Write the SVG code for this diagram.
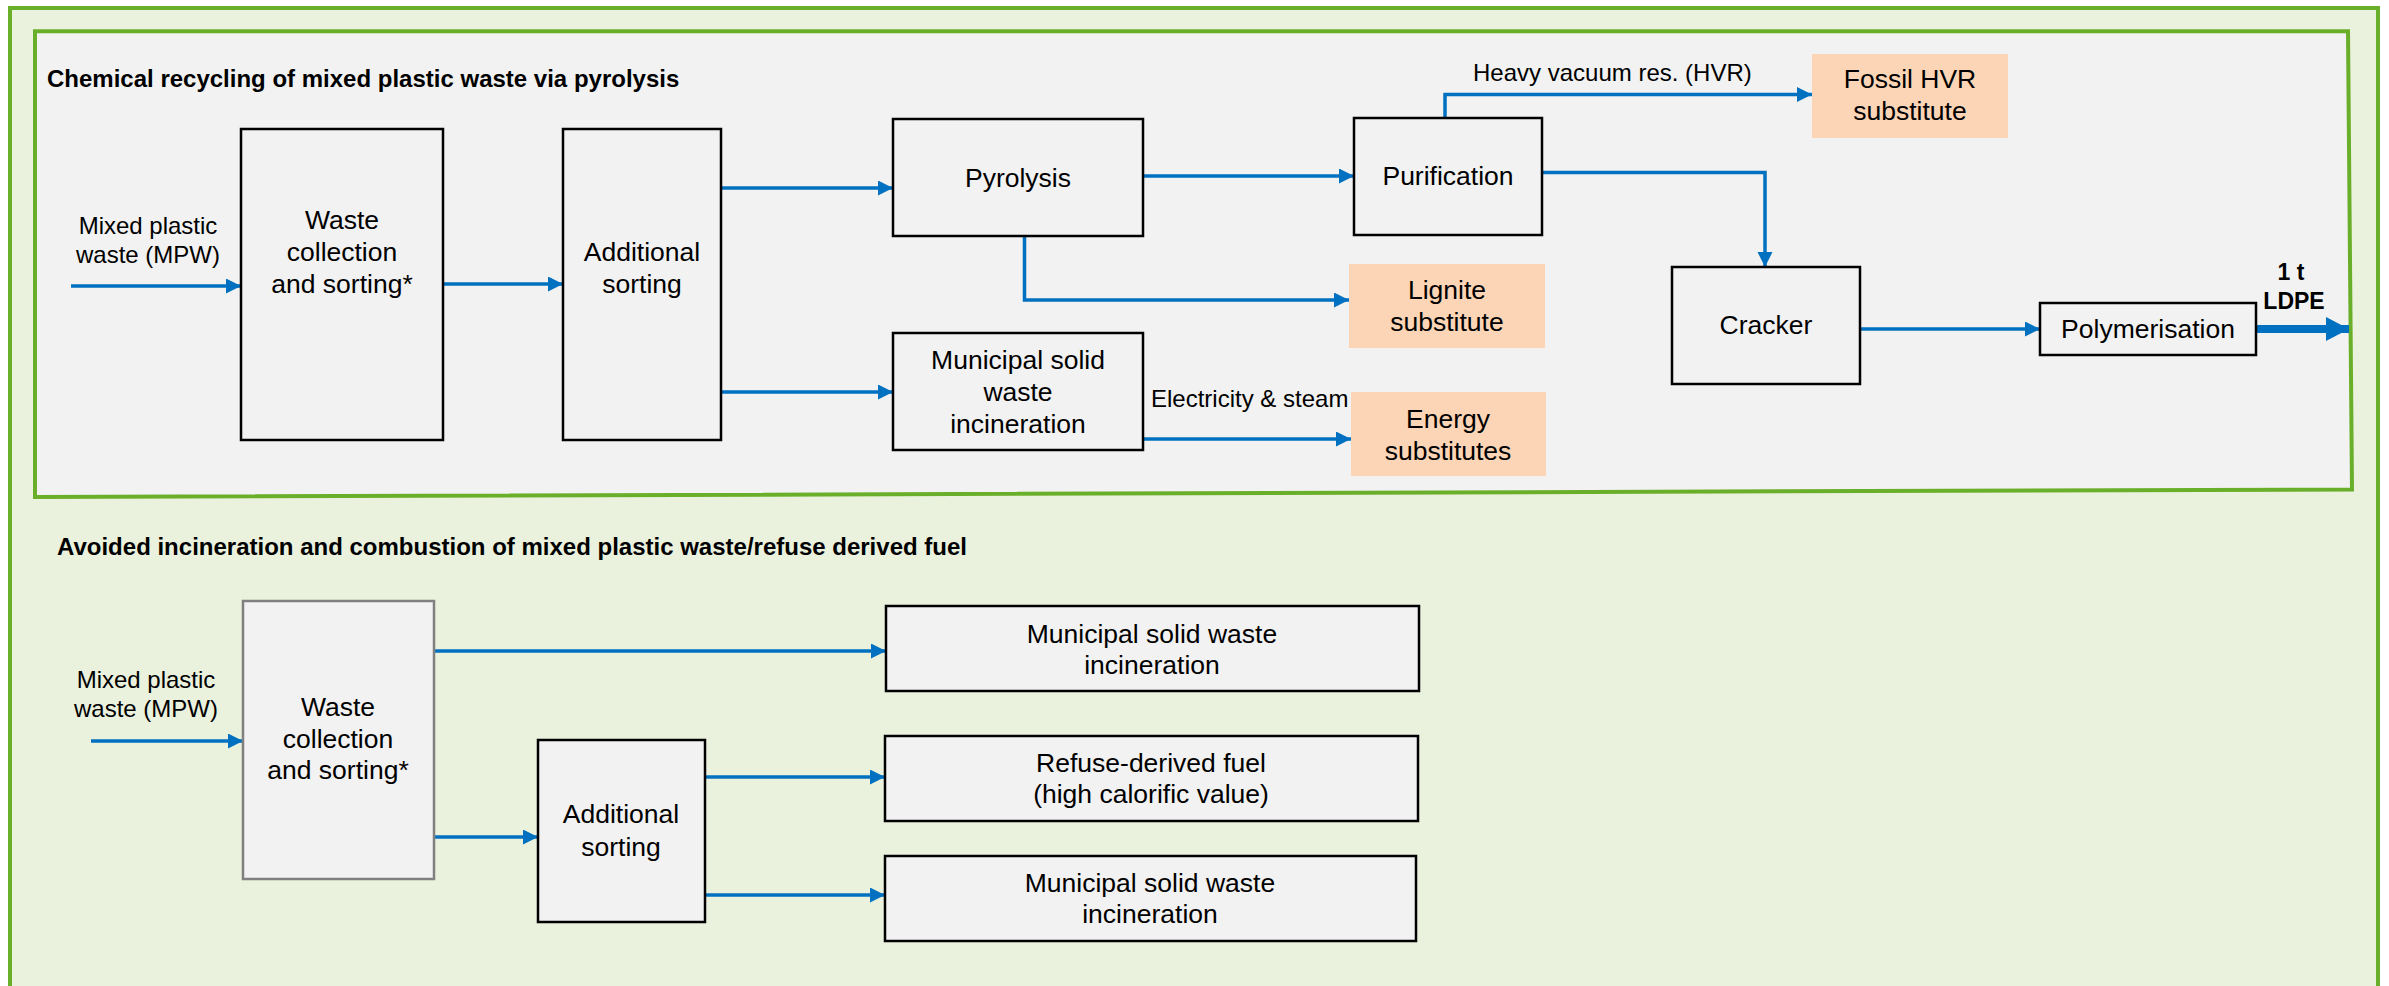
<svg xmlns="http://www.w3.org/2000/svg" width="2389" height="986" viewBox="0 0 2389 986">
  <style>
    .box { fill: #F2F2F2; stroke: #000000; stroke-width: 2.5; }
    .box-grey { fill: #F2F2F2; stroke: #808080; stroke-width: 2.5; }
    .sub { fill: #FBD5B5; stroke: none; }
    .t { font-family: "Liberation Sans", Arial, sans-serif; font-size: 26.5px; fill: #000; text-anchor: middle; }
    .lbl { font-family: "Liberation Sans", Arial, sans-serif; font-size: 24px; fill: #000; }
    .lblc { font-family: "Liberation Sans", Arial, sans-serif; font-size: 24px; fill: #000; text-anchor: middle; }
    .title { font-family: "Liberation Sans", Arial, sans-serif; font-size: 24px; font-weight: bold; fill: #000; }
    .bold { font-family: "Liberation Sans", Arial, sans-serif; font-size: 23px; font-weight: bold; fill: #000; text-anchor: middle; }
    .flow { fill: none; stroke: #0070C0; stroke-width: 3.5; marker-end: url(#arrow); }
    .flow-thick { fill: none; stroke: #0070C0; stroke-width: 8; marker-end: url(#arrow-big); }
  </style>
  <defs>
    <marker id="arrow" markerUnits="userSpaceOnUse" markerWidth="16" markerHeight="16" refX="15" refY="7.5" orient="auto">
      <path d="M0,0 L15,7.5 L0,15 z" fill="#0070C0"/>
    </marker>
    <marker id="arrow-big" markerUnits="userSpaceOnUse" markerWidth="24" markerHeight="24" refX="23" refY="12" orient="auto">
      <path d="M0,0 L23,12 L0,24 z" fill="#0070C0"/>
    </marker>
  </defs>

  <rect width="2389" height="986" fill="#FFFFFF"/>

  <!-- outer frame (open at the bottom edge) -->
  <path d="M10,992 V8 H2378 V992" fill="#EAF1DD" stroke="#6AAF29" stroke-width="4"/>

  <!-- pyrolysis panel -->
  <polygon points="35,31.3 2348,31.3 2352,489.5 35,497" fill="#F2F2F2" stroke="#6AAF29" stroke-width="4"/>

  <text class="title" x="47" y="87">Chemical recycling of mixed plastic waste via pyrolysis</text>
  <text class="title" x="57" y="555">Avoided incineration and combustion of mixed plastic waste/refuse derived fuel</text>

  <!-- connectors -->
  <g id="connectors">
    <path class="flow" d="M71,286 H241"/>
    <path class="flow" d="M443,284 H563"/>
    <path class="flow" d="M721,188 H893"/>
    <path class="flow" d="M721,392 H893"/>
    <path class="flow" d="M1143,176 H1354"/>
    <path class="flow" d="M1024.5,236 V300 H1349"/>
    <path class="flow" d="M1445,118 V94.5 H1812"/>
    <path class="flow" d="M1542,172.5 H1765 V267"/>
    <path class="flow" d="M1143,439 H1351"/>
    <path class="flow" d="M1860,329 H2040"/>
    <path class="flow-thick" d="M2256,329 H2349"/>

    <path class="flow" d="M91,741 H243"/>
    <path class="flow" d="M434,651 H886"/>
    <path class="flow" d="M434,837 H538"/>
    <path class="flow" d="M705,777 H885"/>
    <path class="flow" d="M705,895 H885"/>

    <text class="lbl" x="1473" y="81">Heavy vacuum res. (HVR)</text>
    <text class="lbl" x="1151" y="407">Electricity &amp; steam</text>
    <text class="bold" x="2291" y="280">1 t</text>
    <text class="bold" x="2294" y="309">LDPE</text>
  </g>

  <!-- upper chain inputs -->
  <g id="mpw-in-1">
    <text class="lblc" x="148" y="234">Mixed plastic</text>
    <text class="lblc" x="148" y="263">waste (MPW)</text>
  </g>

  <g id="waste-collection-1">
    <rect class="box" x="241" y="129" width="202" height="311"/>
    <text class="t" x="342" y="229">Waste</text>
    <text class="t" x="342" y="261">collection</text>
    <text class="t" x="342" y="293">and sorting*</text>
  </g>

  <g id="additional-sorting-1">
    <rect class="box" x="563" y="129" width="158" height="311"/>
    <text class="t" x="642" y="261">Additional</text>
    <text class="t" x="642" y="293">sorting</text>
  </g>

  <g id="pyrolysis">
    <rect class="box" x="893" y="119" width="250" height="117"/>
    <text class="t" x="1018" y="187">Pyrolysis</text>
  </g>

  <g id="msw-incineration-1">
    <rect class="box" x="893" y="333" width="250" height="117"/>
    <text class="t" x="1018" y="369">Municipal solid</text>
    <text class="t" x="1018" y="401">waste</text>
    <text class="t" x="1018" y="433">incineration</text>
  </g>

  <g id="purification">
    <rect class="box" x="1354" y="118" width="188" height="117"/>
    <text class="t" x="1448" y="185">Purification</text>
  </g>

  <g id="fossil-hvr-substitute">
    <rect class="sub" x="1812" y="54" width="196" height="84"/>
    <text class="t" x="1910" y="88">Fossil HVR</text>
    <text class="t" x="1910" y="120">substitute</text>
  </g>

  <g id="lignite-substitute">
    <rect class="sub" x="1349" y="264" width="196" height="84"/>
    <text class="t" x="1447" y="299">Lignite</text>
    <text class="t" x="1447" y="331">substitute</text>
  </g>

  <g id="energy-substitutes">
    <rect class="sub" x="1351" y="392" width="195" height="84"/>
    <text class="t" x="1448" y="428">Energy</text>
    <text class="t" x="1448" y="460">substitutes</text>
  </g>

  <g id="cracker">
    <rect class="box" x="1672" y="267" width="188" height="117"/>
    <text class="t" x="1766" y="334">Cracker</text>
  </g>

  <g id="polymerisation">
    <rect class="box" x="2040" y="303" width="216" height="52"/>
    <text class="t" x="2148" y="338">Polymerisation</text>
  </g>

  <!-- lower chain -->
  <g id="mpw-in-2">
    <text class="lblc" x="146" y="688">Mixed plastic</text>
    <text class="lblc" x="146" y="717">waste (MPW)</text>
  </g>

  <g id="waste-collection-2">
    <rect class="box-grey" x="243" y="601" width="191" height="278"/>
    <text class="t" x="338" y="716">Waste</text>
    <text class="t" x="338" y="748">collection</text>
    <text class="t" x="338" y="779">and sorting*</text>
  </g>

  <g id="additional-sorting-2">
    <rect class="box" x="538" y="740" width="167" height="182"/>
    <text class="t" x="621" y="823">Additional</text>
    <text class="t" x="621" y="856">sorting</text>
  </g>

  <g id="msw-incineration-2">
    <rect class="box" x="886" y="606" width="533" height="85"/>
    <text class="t" x="1152" y="643">Municipal solid waste</text>
    <text class="t" x="1152" y="674">incineration</text>
  </g>

  <g id="refuse-derived-fuel">
    <rect class="box" x="885" y="736" width="533" height="85"/>
    <text class="t" x="1151" y="772">Refuse-derived fuel</text>
    <text class="t" x="1151" y="803">(high calorific value)</text>
  </g>

  <g id="msw-incineration-3">
    <rect class="box" x="885" y="856" width="531" height="85"/>
    <text class="t" x="1150" y="892">Municipal solid waste</text>
    <text class="t" x="1150" y="923">incineration</text>
  </g>
</svg>
